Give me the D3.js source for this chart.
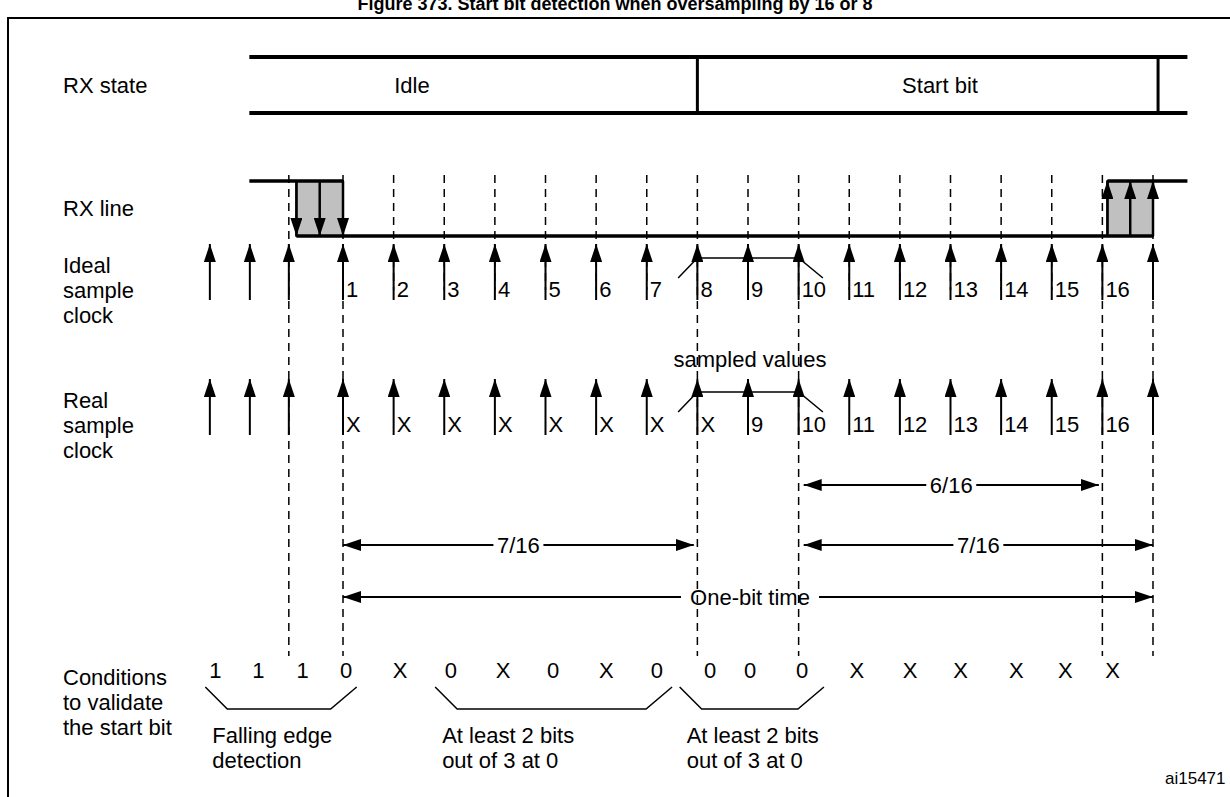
<!DOCTYPE html>
<html>
<head>
<meta charset="utf-8">
<script src="https://cdn.jsdelivr.net/npm/d3@7"></script>
<style>
body { margin: 0; background: #fff; }
text { font-family: "Liberation Sans", Arial, sans-serif; fill: #000; }
</style>
</head>
<body>
<div></div>
<script>
// sample index: 0 = sample "1", 15 = sample "16"
var preSamples = [-2.63, -1.84, -1.07],
	sampleIdx = d3.range(0, 17),
	idealLabels = ["1","2","3","4","5","6","7","8","9","10","11","12","13","14","15","16",""],
	realLabels = ["X","X","X","X","X","X","X","X","9","10","11","12","13","14","15","16",""],
	longDashes = [-1.07, 0, 7, 9, 15, 16],
	shortDashes = [1, 2, 3, 4, 5, 6, 8, 10, 11, 12, 13, 14],
	condValues = ["1","1","1","0","X","0","X","0","X","0","0","0","0","X","X","X","X","X","X"],
	condPos = [-2.52, -1.67, -0.8, 0.06, 1.13, 2.13, 3.16, 4.15, 5.2, 6.2, 7.25, 8.04, 9.07, 10.15, 11.2, 12.2, 13.3, 14.27, 15.2],
	stateNames = ["Idle", "Start bit"],
	stateBounds = [-1.85, 7, 16.1, 16.68],
	fallEdges = [-0.92, -0.46, 0],
	riseEdges = [15.1, 15.55, 16],
	spans = [
		{from: 9.1, to: 14.93, y: 485, label: "6/16"},
		{from: 0, to: 6.93, y: 545, label: "7/16"},
		{from: 9.1, to: 16, y: 545, label: "7/16"},
		{from: 0, to: 16, y: 597, label: "One-bit time"}
	],
	groups = [
		{from: -2.72, to: 0.27, lines: ["Falling edge", "detection"]},
		{from: 1.82, to: 6.5, lines: ["At least 2 bits", "out of 3 at 0"]},
		{from: 6.65, to: 9.5, lines: ["At least 2 bits", "out of 3 at 0"]}
	],
	rowLabels = [
		{y: 85, lines: ["RX state"]},
		{y: 208, lines: ["RX line"]},
		{y: 265, lines: ["Ideal", "sample", "clock"]},
		{y: 400, lines: ["Real", "sample", "clock"]},
		{y: 677, lines: ["Conditions", "to validate", "the start bit"]}
	];

var svg = d3.select("div").append("svg").attr("width", 1230).attr("height", 797);
var x = d3.scaleLinear().domain([0, 16]).range([343, 1153]);
var fs = "22px";

svg.append("defs").append("marker")
	.attr("id", "ah").attr("viewBox", "0 0 18 12").attr("refX", 18).attr("refY", 6)
	.attr("markerWidth", 18).attr("markerHeight", 12).attr("markerUnits", "userSpaceOnUse")
	.attr("orient", "auto-start-reverse")
	.append("path").attr("d", "M0,0L18,6L0,12Z").attr("fill", "#000");

svg.append("text").attr("x", 615).attr("y", 10).attr("text-anchor", "middle")
	.style("font-size", "18px").style("font-weight", "bold")
	.text("Figure 373. Start bit detection when oversampling by 16 or 8");
svg.append("rect").attr("x", 8).attr("y", 18).attr("width", 1240).attr("height", 800)
	.attr("fill", "none").attr("stroke", "#000").attr("stroke-width", 2);

rowLabels.forEach(function (r) {
	r.lines.forEach(function (l, i) {
		svg.append("text").attr("x", 63).attr("y", r.y + i * 25).attr("dy", "0.35em")
			.style("font-size", fs).text(l);
	});
});

// RX state
[57, 113].forEach(function (y) {
	svg.append("line").attr("x1", x(stateBounds[0])).attr("x2", x(stateBounds[3]))
		.attr("y1", y).attr("y2", y).attr("stroke", "#000").attr("stroke-width", 4);
});
[1, 2].forEach(function (i) {
	svg.append("line").attr("x1", x(stateBounds[i])).attr("x2", x(stateBounds[i]))
		.attr("y1", 57).attr("y2", 113).attr("stroke", "#000").attr("stroke-width", 3);
});
svg.append("text").attr("x", 412).attr("y", 85).attr("dy", "0.35em").attr("text-anchor", "middle").style("font-size", fs).text(stateNames[0]);
svg.append("text").attr("x", 940).attr("y", 85).attr("dy", "0.35em").attr("text-anchor", "middle").style("font-size", fs).text(stateNames[1]);

// dashed guides
function dash(v, y1, y2) {
	svg.append("line").attr("x1", x(v)).attr("x2", x(v)).attr("y1", y1).attr("y2", y2)
		.attr("stroke", "#000").attr("stroke-width", 1.5).attr("stroke-dasharray", "8,6");
}
longDashes.forEach(function (v) { dash(v, 175, 656); });
shortDashes.forEach(function (v) { dash(v, 175, 290); });

// RX line
svg.append("rect").attr("x", x(fallEdges[0])).attr("y", 181).attr("width", x(0) - x(fallEdges[0])).attr("height", 55)
	.attr("fill", "#c0c0c0").attr("stroke", "#000").attr("stroke-width", 2);
svg.append("rect").attr("x", x(riseEdges[0])).attr("y", 181).attr("width", x(16) - x(riseEdges[0])).attr("height", 55)
	.attr("fill", "#c0c0c0").attr("stroke", "#000").attr("stroke-width", 2);
svg.append("path").attr("fill", "none").attr("stroke", "#000").attr("stroke-width", 3.5)
	.attr("d", "M" + x(stateBounds[0]) + ",181H" + x(0) + "M" + x(fallEdges[0]) + ",236H" + x(16) + "M" + x(riseEdges[0]) + ",181H" + x(stateBounds[3]));
fallEdges.forEach(function (v) {
	svg.append("line").attr("x1", x(v)).attr("x2", x(v)).attr("y1", 181).attr("y2", 236)
		.attr("stroke", "#000").attr("stroke-width", 2.5).attr("marker-end", "url(#ah)");
});
riseEdges.forEach(function (v) {
	svg.append("line").attr("x1", x(v)).attr("x2", x(v)).attr("y1", 236).attr("y2", 181)
		.attr("stroke", "#000").attr("stroke-width", 2.5).attr("marker-end", "url(#ah)");
});

// clocks
function clock(yTop, labels) {
	preSamples.concat(sampleIdx).forEach(function (v) {
		svg.append("line").attr("x1", x(v)).attr("x2", x(v)).attr("y1", yTop + 56).attr("y2", yTop)
			.attr("stroke", "#000").attr("stroke-width", 2).attr("marker-end", "url(#ah)");
	});
	sampleIdx.forEach(function (v, i) {
		svg.append("text").attr("x", x(v) + 3).attr("y", yTop + 45).attr("dy", "0.35em")
			.style("font-size", fs).text(labels[i]);
	});
}
clock(244, idealLabels);
clock(379, realLabels);

function bracketTop(yTop) {
	svg.append("path").attr("fill", "none").attr("stroke", "#000").attr("stroke-width", 1.5)
		.attr("d", "M" + x(6.62) + "," + (yTop + 20) + "L" + x(7) + "," + yTop + "H" + x(9) + "L" + x(9.48) + "," + (yTop + 20));
}
bracketTop(258);
bracketTop(392);
svg.append("text").attr("x", 750).attr("y", 359).attr("dy", "0.35em").attr("text-anchor", "middle")
	.style("font-size", fs).text("sampled values");

// spans
spans.forEach(function (s) {
	var x1 = x(s.from), x2 = x(s.to), cx = (x1 + x2) / 2;
	if (s.label === "One-bit time") cx = 750;
	var w = s.label.length * 11 / 2 + 3;
	svg.append("line").attr("x1", cx - w).attr("x2", x1).attr("y1", s.y).attr("y2", s.y)
		.attr("stroke", "#000").attr("stroke-width", 2).attr("marker-end", "url(#ah)");
	svg.append("line").attr("x1", cx + w).attr("x2", x2).attr("y1", s.y).attr("y2", s.y)
		.attr("stroke", "#000").attr("stroke-width", 2).attr("marker-end", "url(#ah)");
	svg.append("text").attr("x", cx).attr("y", s.y).attr("dy", "0.35em").attr("text-anchor", "middle")
		.style("font-size", fs).text(s.label);
});

// conditions
condValues.forEach(function (c, i) {
	svg.append("text").attr("x", x(condPos[i])).attr("y", 670).attr("dy", "0.35em").attr("text-anchor", "middle")
		.style("font-size", fs).text(c);
});
groups.forEach(function (g) {
	var x1 = x(g.from), x2 = x(g.to);
	svg.append("path").attr("fill", "none").attr("stroke", "#000").attr("stroke-width", 1.5)
		.attr("d", "M" + x1 + ",687L" + (x1 + 22) + ",709H" + (x2 - 26) + "L" + x2 + ",687");
	g.lines.forEach(function (l, i) {
		svg.append("text").attr("x", x1 + 7).attr("y", 735 + i * 25).attr("dy", "0.35em")
			.style("font-size", fs).text(l);
	});
});

svg.append("text").attr("x", 1165).attr("y", 778).attr("dy", "0.35em").style("font-size", "17px").text("ai15471");
</script>
</body>
</html>
